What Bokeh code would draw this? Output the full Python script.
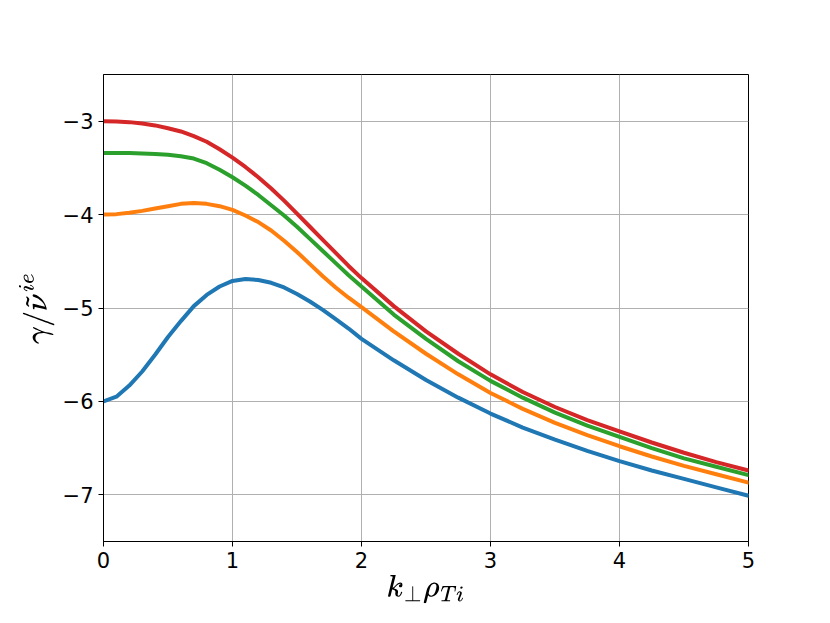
from bokeh.plotting import figure
from bokeh.models import Range1d, FixedTicker
from bokeh.embed import file_html
from bokeh.resources import INLINE

k_perp = [0.0, 0.1, 0.2, 0.3, 0.4, 0.5, 0.6, 0.7, 0.8, 0.9,
          1.0, 1.1, 1.2, 1.3, 1.4, 1.5, 1.6, 1.7, 1.8, 1.9,
          2.0, 2.25, 2.5, 2.75, 3.0, 3.25, 3.5, 3.75, 4.0, 4.25, 4.5, 4.75, 5.0]
blue = [-6.00, -5.95, -5.83, -5.68, -5.50, -5.31, -5.14, -4.98, -4.86, -4.77,
        -4.71, -4.69, -4.70, -4.73, -4.78, -4.85, -4.93, -5.02, -5.12, -5.22,
        -5.33, -5.56, -5.77, -5.96, -6.13, -6.28, -6.41, -6.53, -6.64, -6.74, -6.83, -6.92, -7.01]
orange = [-4.00, -3.995, -3.98, -3.96, -3.935, -3.91, -3.885, -3.875, -3.885, -3.91,
          -3.95, -4.01, -4.08, -4.17, -4.28, -4.40, -4.53, -4.66, -4.78, -4.89,
          -4.99, -5.25, -5.49, -5.71, -5.91, -6.08, -6.23, -6.36, -6.48, -6.59, -6.69, -6.78, -6.87]
green = [-3.34, -3.34, -3.34, -3.345, -3.35, -3.36, -3.375, -3.40, -3.45, -3.52,
         -3.60, -3.69, -3.79, -3.90, -4.01, -4.13, -4.26, -4.39, -4.52, -4.65,
         -4.77, -5.07, -5.33, -5.57, -5.78, -5.96, -6.12, -6.26, -6.38, -6.50, -6.61, -6.70, -6.79]
red = [-3.00, -3.003, -3.01, -3.025, -3.045, -3.075, -3.11, -3.16, -3.22, -3.30,
       -3.39, -3.49, -3.60, -3.72, -3.85, -3.99, -4.13, -4.27, -4.41, -4.55,
       -4.68, -4.98, -5.25, -5.49, -5.71, -5.90, -6.06, -6.20, -6.32, -6.44, -6.55, -6.65, -6.74]

x_ticks = [0, 1, 2, 3, 4, 5]
y_ticks = [-7, -6, -5, -4, -3]
colors = ["#1f77b4", "#ff7f0e", "#2ca02c", "#d62728"]

p = figure(width=814, height=607, output_backend="svg", toolbar_location=None,
           x_range=Range1d(0, 5), y_range=Range1d(-7.5, -2.5),
           min_border_left=103, min_border_right=66, min_border_top=74, min_border_bottom=62)

for ys, c in zip([blue, orange, green, red], colors):
    p.line(k_perp, ys, line_color=c, line_width=4, line_join="round", line_cap="round")

p.xaxis.ticker = FixedTicker(ticks=x_ticks)
p.yaxis.ticker = FixedTicker(ticks=y_ticks)
p.yaxis.major_label_overrides = {t: ("\u2212" + str(-t)) for t in y_ticks}
p.xaxis.axis_label = r"$$k_\perp \rho_{Ti}$$"
p.yaxis.axis_label = r"$$\gamma/\tilde{\nu}^{ie}$$"

for ax in (p.xaxis[0], p.yaxis[0]):
    ax.major_label_text_font = "DejaVu Sans"
    ax.major_label_text_font_size = "21px"
    ax.major_label_text_color = "black"
    ax.axis_label_text_font_size = "26px"
    ax.axis_label_text_font_style = "normal"
    ax.axis_label_text_color = "black"
    ax.axis_line_color = "black"
    ax.major_tick_line_color = "black"
    ax.major_tick_out = 5
    ax.major_tick_in = 0
    ax.minor_tick_line_color = None
    ax.major_label_standoff = 5
p.xaxis[0].axis_label_standoff = 4

p.grid.grid_line_color = "#b0b0b0"
p.grid.grid_line_width = 1
p.outline_line_color = "black"
p.outline_line_width = 1
p.background_fill_color = "white"
p.border_fill_color = "white"

open("out.html", "w").write(file_html(p, INLINE))
